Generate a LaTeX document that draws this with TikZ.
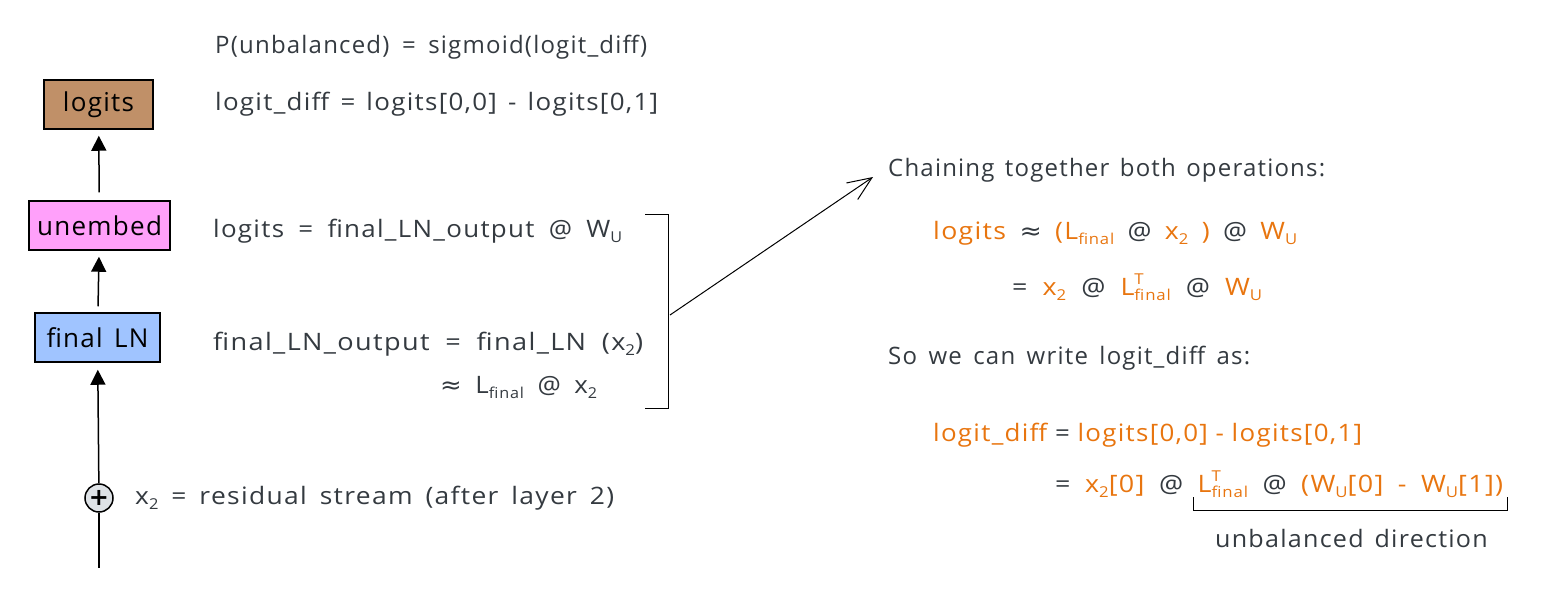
\documentclass[tikz,border=0pt]{standalone}
\usepackage{fontspec}
\usepackage{graphicx}
\setmainfont{Open Sans}[LetterSpace=5,WordSpace=1.4]
\newfontfamily\dv{DejaVu Sans}
\usetikzlibrary{arrows.meta}
\definecolor{ink}{HTML}{343A40}
\definecolor{orng}{HTML}{E8750F}
\definecolor{brownf}{HTML}{C09068}
\definecolor{pinkf}{HTML}{FFA0FA}
\definecolor{bluef}{HTML}{A0C4FF}
\definecolor{circf}{HTML}{DEE2E6}
\newcommand\og[1]{\textcolor{orng}{#1}}
\newcommand\apx{{\dv ≈}}
\newcommand\sbs[1]{\raisebox{-5pt}{\fontsize{15}{15}\selectfont #1}}
\newcommand\LT{L\rlap{\raisebox{11pt}{\fontsize{15}{15}\selectfont T}}\sbs{final}}
\newcommand\fit[2]{\makebox[#1pt][s]{#2}}
% \xfit{scale*100}{width}{text}
\newcommand\xfit[3]{\scalebox{\fpeval{#1/100}}[1]{\makebox[\dimexpr #2pt*100/#1\relax][s]{#3}}}
\begin{document}
\begin{tikzpicture}[x=1pt,y=-1pt,
  font=\fontsize{24}{28}\selectfont,
  txt/.style={anchor=west,inner sep=0pt,text=ink},
  box/.style={draw=black,line width=1.5pt,minimum height=49pt,inner sep=0pt,font=\fontsize{26}{30}\selectfont},
  up/.style={-{Triangle[width=15pt,length=15pt]},line width=1.5pt},
  thin/.style={line width=1pt}]
\useasboundingbox (0,0) rectangle (1544,600);
% boxes
\node[box,fill=brownf,minimum width=109pt] (logits) at (98.5,104.5) {logits};
\node[box,fill=pinkf,minimum width=141pt] (unembed) at (99.5,225.5) {unembed};
\node[box,fill=bluef,minimum width=125pt] (fln) at (97.5,337.5) {final LN};
\node[circle,draw=black,line width=1.5pt,fill=circf,minimum size=28pt,inner sep=0pt,font=\dv\bfseries\fontsize{24}{24}\selectfont] (plus) at (99,498) {+};
\coordinate (bot) at (99,568);
% arrows
\draw[up,shorten <=8pt,shorten >=6pt] (unembed) -- (logits);
\draw[up,shorten <=6pt,shorten >=6pt] (fln) -- (unembed);
\draw[up,shorten >=7pt] (plus) -- (fln);
\draw[line width=1.5pt] (plus) -- (bot);
% left texts
\node[txt] (t1) at (215,47) {\fit{432}{P(unbalanced) = sigmoid(logit\_diff)}};
\node[txt] (t2) at (215,104) {\xfit{108}{443}{logit\_diff = logits[0,0] - logits[0,1]}};
\node[txt] (t3) at (213,231) {\xfit{108}{409}{logits = final\_LN\_output @ W\sbs{U}}};
\node[txt] (t4) at (213,344) {\xfit{113}{430}{final\_LN\_output = final\_LN (x\sbs{2})}};
\node[txt] (t5) at (440,387) {\xfit{108}{157}{\apx{} L\sbs{final} @ x\sbs{2}}};
\node[txt] (t6) at (135,498) {\xfit{110}{479}{x\sbs{2} = residual stream (after layer 2)}};
% bracket
\coordinate (b1) at (645,214);
\coordinate (b2) at (668,214);
\coordinate (b3) at (668,408);
\coordinate (b4) at (645,408);
\draw[thin] (b1) -- (b2) -- (b3) -- (b4);
\coordinate (as) at (670,315);
\coordinate (ae) at (873,177);
\draw[thin,-{Straight Barb[length=24pt,width=20pt,line width=1pt]}] (as) -- (ae);
% right texts
\node[txt] (r1) at (888,170) {Chaining together both operations:};
\node[txt] (r2) at (933,233) {\xfit{111}{364}{\og{logits} \apx{} \og{(L\sbs{final}} @ \og{x\sbs{2} )} @ \og{W\sbs{U}}}};
\node[txt] (r3) at (1012,287) {\xfit{112}{250}{= \og{x\sbs{2}} @ \og{\LT} @ \og{W\sbs{U}}}};
\node[txt] (r4) at (888,358) {\fit{362}{So we can write logit\_diff as:}};
\node[txt] (r5) at (933,435) {\xfit{108}{429}{\og{logit\_diff} = \og{logits[0,0] - logits[0,1]}}};
\node[txt] (r6) at (1055,484) {\xfit{112}{448}{= \og{x\sbs{2}[0]} @ \og{\LT} @ \og{(W\sbs{U}[0] - W\sbs{U}[1])}}};
\coordinate (c1) at (1193,497);
\coordinate (c2) at (1193,510);
\coordinate (c3) at (1507,510);
\coordinate (c4) at (1507,497);
\draw[thin] (c1) -- (c2) -- (c3) -- (c4);
\node[txt] (r7) at (1215,538) {\scalebox{1.045}[1]{unbalanced direction}};
\end{tikzpicture}
\end{document}
